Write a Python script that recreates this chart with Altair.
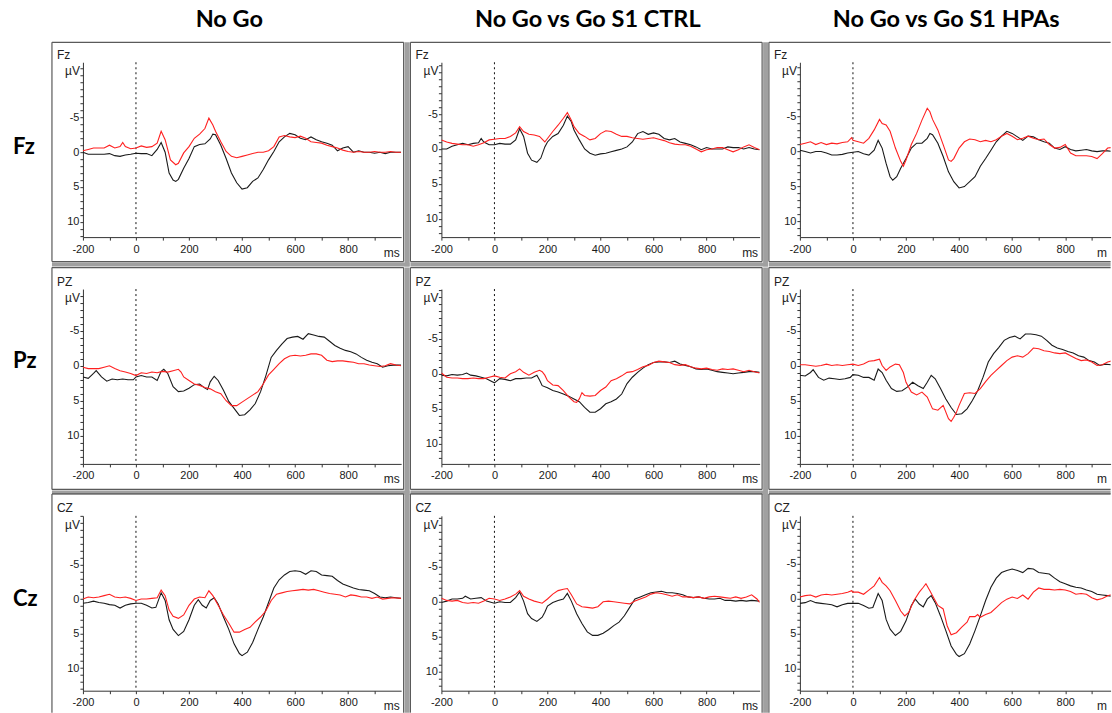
import math
import altair as alt
import pandas as pd

COL_TITLES = ["No Go", "No Go vs Go S1 CTRL", "No Go vs Go S1 HPAs"]
ROW_TITLES = ["Fz", "Pz", "Cz"]
SITE_LABELS = ["Fz", "PZ", "CZ"]
X_TICKS = list(range(-200, 1000, 100))

# (time ms, amplitude µV); negative is plotted upwards
FZ_NOGO_BLACK = [(-200,0),(-180,0.3),(-160,0.3),(-120,0.3),(-100,0.2),(-80,0.5),(-60,0.6),(-40,0.4),(-20,0.3),(0,0.15),(20,0.2),(40,0.2),(60,0.5),(80,-0.4),(95,-1.4),(110,0),(125,3),(140,4),(150,4.2),(160,3.9),(180,2.3),(200,0.9),(220,-0.8),(240,-1.1),(260,-1.2),(280,-1.9),(290,-2.6),(300,-2.5),(320,-1),(340,0.9),(360,3),(380,4.4),(400,5.3),(420,5.1),(440,4.2),(460,3.7),(480,2.5),(500,1.1),(520,-0.1),(540,-1.5),(560,-2.2),(580,-2.7),(600,-2.5),(620,-2),(640,-1.8),(660,-2.2),(680,-1.8),(700,-1.5),(720,-1.3),(740,-1),(760,-0.2),(780,-0.6),(800,-0.8),(820,0),(840,-0.2),(860,0),(880,0),(900,0.15),(920,0),(940,0.2),(960,0),(980,0),(1000,0)]
FZ_NOGO_RED = [(-200,-0.2),(-180,-0.4),(-160,-0.6),(-120,-0.6),(-100,-1),(-80,-0.6),(-60,-0.8),(-50,-1.4),(-40,-0.8),(-20,-0.5),(0,-0.6),(20,-0.9),(40,-0.7),(60,-0.8),(80,-1.3),(95,-3),(110,-1.8),(130,1.1),(150,1.8),(160,1.6),(180,0.1),(200,-0.8),(220,-2),(240,-2.6),(260,-3.4),(275,-4.9),(290,-3.9),(300,-3),(320,-1.5),(340,-0.1),(360,0.6),(380,0.8),(400,0.6),(420,0.4),(440,0.2),(460,0),(480,0),(500,-0.2),(520,-0.8),(540,-2.2),(560,-2.4),(580,-2.2),(600,-2.1),(620,-2.3),(640,-2),(660,-1.5),(680,-1.4),(700,-1.3),(720,-1),(740,-0.8),(760,-0.6),(780,-0.3),(800,-0.1),(820,0),(840,-0.1),(860,0),(880,0),(900,-0.1),(920,0),(940,0),(960,-0.1),(980,0),(1000,0)]
FZ_CTRL_BLACK = [(-200,0),(-180,0),(-160,-0.4),(-140,-0.6),(-120,-0.8),(-100,-0.6),(-80,-0.8),(-60,-0.9),(-50,-1.5),(-40,-1),(-20,-0.6),(0,-0.6),(20,-0.8),(40,-0.7),(60,-0.7),(80,-1.3),(95,-2.9),(110,-1.8),(125,0.6),(140,1.6),(160,1.9),(175,1.3),(190,-0.3),(200,-1),(220,-1.8),(240,-2.2),(260,-3.4),(275,-4.7),(290,-3.9),(300,-2.7),(320,-1.3),(340,0),(360,0.6),(380,0.9),(400,0.7),(420,0.6),(440,0.4),(460,0.2),(480,0),(500,-0.3),(520,-1),(540,-2.2),(560,-2.5),(580,-2.1),(600,-2.3),(620,-2.1),(640,-1.5),(660,-1.3),(680,-1.5),(700,-1),(720,-0.8),(740,-0.6),(760,-0.3),(780,0.1),(800,-0.2),(820,0),(840,0),(860,0),(880,-0.3),(900,-0.2),(920,-0.2),(940,0),(960,-0.2),(980,0),(1000,0.1)]
FZ_CTRL_RED = [(-200,-1.3),(-180,-1),(-160,-0.8),(-140,-0.7),(-120,-0.6),(-100,-0.6),(-80,-0.4),(-60,-0.6),(-40,-0.9),(-20,-1.3),(0,-1.4),(20,-1.5),(40,-1.5),(60,-1.8),(80,-2.3),(95,-3.2),(110,-2.5),(130,-2.1),(150,-2),(170,-1.8),(190,-1),(200,-1.5),(220,-2.5),(240,-3.4),(260,-4.4),(275,-5.2),(290,-4.1),(300,-3.2),(320,-2.2),(340,-1.8),(360,-1.3),(380,-1.5),(400,-2.2),(420,-2.6),(440,-2.5),(460,-2.1),(480,-1.8),(500,-1.8),(520,-1.6),(540,-1.5),(560,-1.4),(580,-1.5),(600,-1.6),(620,-1.4),(640,-1.2),(660,-0.9),(680,-0.7),(700,-0.6),(720,-0.6),(740,-0.4),(760,0),(780,0.4),(800,0.1),(820,0),(840,-0.2),(860,-0.2),(880,0.1),(900,0.4),(920,0.1),(940,-0.3),(960,-0.6),(980,-0.2),(1000,0.1)]
FZ_HPA_BLACK = [(-200,-0.2),(-180,0),(-160,0.2),(-140,0),(-120,0),(-100,0.2),(-80,0.5),(-60,0.5),(-40,0.4),(-20,0.2),(0,0.1),(20,0),(40,0.3),(60,0.5),(80,-0.2),(95,-1.6),(110,-0.5),(125,1.7),(140,3.6),(150,4.1),(165,3.6),(180,2.4),(200,1),(220,-0.5),(240,-1.2),(260,-1.2),(280,-1.9),(290,-2.6),(300,-2.4),(320,-1.2),(340,0.7),(360,2.9),(380,4.3),(400,5.2),(420,5),(440,4.3),(460,3.6),(480,2.1),(500,1),(520,-0.2),(540,-1.4),(560,-2.2),(580,-2.9),(600,-2.6),(620,-2.1),(640,-1.6),(660,-2.2),(680,-2.1),(700,-1.7),(720,-1.4),(740,-1.2),(760,-0.5),(780,-0.3),(800,-0.7),(820,-0.3),(840,-0.1),(860,-0.2),(880,-0.3),(900,-0.1),(920,0),(940,-0.1),(960,-0.1),(980,0),(1000,0)]
FZ_HPA_RED = [(-200,-1),(-180,-1.2),(-160,-1.4),(-140,-1),(-120,-1.3),(-100,-1),(-80,-1.2),(-60,-1.1),(-40,-1.3),(-20,-1.4),(-5,-2),(0,-1.6),(20,-1.4),(40,-1.2),(60,-1.9),(80,-3.1),(100,-4.6),(110,-4),(125,-3.8),(140,-2.9),(160,-0.5),(180,1.4),(190,2.1),(200,1.2),(220,-1),(240,-2.6),(260,-4.5),(280,-6.2),(290,-5.7),(300,-4.6),(320,-3.1),(340,-1),(360,1.2),(370,1.4),(380,1),(400,-0.5),(420,-1.4),(440,-1.8),(460,-1.7),(480,-1.4),(500,-1.6),(520,-1.4),(540,-1.7),(560,-2.2),(580,-2.6),(600,-2.2),(620,-1.7),(640,-1.9),(660,-2.2),(680,-1.9),(700,-1.7),(720,-1.8),(740,-1),(760,-0.5),(780,-0.6),(800,-1),(820,0.2),(840,0.6),(860,0.6),(880,0.6),(900,0.7),(920,1),(940,0.3),(960,-0.5),(980,-0.6),(1000,-0.5)]

PZ_NOGO_BLACK = [(-200,1.6),(-180,1.8),(-160,1.1),(-150,0.7),(-130,1.6),(-110,2.2),(-90,1.9),(-70,2),(-50,1.9),(-30,2),(-10,2),(0,1.6),(20,1.4),(40,1.6),(60,1.6),(80,2.1),(95,0.8),(105,0.5),(120,1.1),(140,3),(160,3.7),(180,3.6),(200,3.2),(220,2.7),(240,2.6),(260,3.2),(270,3.4),(280,2.3),(295,1.5),(310,2.1),(330,3.5),(350,5.1),(370,6.1),(390,7.1),(410,7),(430,6.3),(450,5.4),(470,3.7),(490,1.4),(510,-1.2),(530,-2.2),(550,-3.1),(570,-3.9),(590,-4.1),(610,-4.2),(630,-3.8),(650,-4.6),(670,-4.4),(690,-4.2),(710,-4.1),(730,-3.5),(750,-2.9),(770,-2.5),(790,-2.2),(810,-2),(830,-1.7),(850,-1.2),(870,-0.8),(890,-0.5),(910,-0.3),(930,0.2),(950,0),(970,-0.1),(1000,-0.1)]
PZ_NOGO_RED = [(-200,0.2),(-180,0.4),(-160,0.4),(-140,0.4),(-120,0.2),(-100,0),(-80,0.4),(-60,0.7),(-40,0.9),(-20,1.1),(0,1.4),(20,1),(40,1.1),(60,0.9),(80,1),(100,0.8),(120,0.9),(140,0.7),(160,0.5),(170,0.9),(180,1.6),(200,2.1),(220,2.6),(240,2.8),(260,3.1),(280,3.3),(300,3.7),(320,4),(340,5),(360,5.7),(380,5.7),(400,5.2),(420,4.7),(440,4.2),(460,3.7),(480,2.6),(500,1.3),(520,0.5),(540,-0.3),(560,-1),(580,-1.4),(600,-1.5),(620,-1.4),(640,-1.5),(660,-1.7),(680,-1.7),(700,-1.5),(720,-0.8),(740,-0.6),(760,-0.7),(780,-0.7),(800,-0.6),(820,-0.5),(840,-0.3),(860,-0.3),(880,-0.1),(900,0),(920,0.1),(940,0),(960,-0.3),(980,-0.1),(1000,0)]
PZ_CTRL_BLACK = [(-200,0.2),(-180,0.3),(-160,0.1),(-140,0.2),(-120,0.1),(-105,-0.1),(-90,0.2),(-70,0.3),(-50,0.5),(-30,0.7),(-10,1.1),(0,1.3),(20,0.7),(40,0.8),(60,1),(80,0.7),(100,0.7),(120,0.6),(140,0.6),(160,0.2),(170,0.9),(180,1.7),(200,2),(220,2.4),(240,2.6),(260,2.9),(280,3.2),(300,3.6),(320,4),(340,4.8),(360,5.5),(380,5.5),(400,5),(420,4.3),(440,4),(460,3.6),(480,2.9),(500,1.4),(520,0.5),(540,-0.2),(560,-0.8),(580,-1.3),(600,-1.6),(620,-1.7),(640,-1.7),(660,-1.6),(680,-1.8),(700,-1.4),(720,-1.2),(740,-1),(760,-0.7),(780,-0.6),(800,-0.7),(820,-0.5),(840,-0.3),(860,-0.2),(880,-0.1),(900,0),(920,-0.1),(940,-0.2),(960,-0.3),(980,-0.3),(1000,-0.2)]
PZ_CTRL_RED = [(-200,-0.1),(-180,0.5),(-160,0.6),(-140,0.6),(-120,0.7),(-100,0.7),(-80,0.6),(-60,0.7),(-40,0.7),(-20,0.5),(0,0.3),(20,0.5),(40,0.6),(60,0),(80,-0.3),(95,-0.7),(110,-0.2),(130,0.2),(150,-0.2),(170,-0.5),(180,-0.3),(190,0.2),(200,1),(220,1.6),(240,1.7),(260,2.4),(280,3.3),(300,4),(310,4.1),(320,3.6),(330,2.7),(340,3.1),(360,3.2),(380,3.1),(400,2.4),(420,1.9),(440,1),(460,0.7),(480,0.3),(500,-0.2),(520,-0.3),(540,-0.6),(560,-1),(580,-1.2),(600,-1.6),(620,-1.8),(640,-1.7),(660,-1.6),(680,-1.3),(700,-1.2),(720,-1.3),(740,-1),(760,-0.8),(780,-0.7),(800,-0.8),(820,-0.6),(840,-0.5),(860,-0.7),(880,-0.6),(900,-0.7),(920,-0.5),(940,-0.3),(960,-0.5),(980,-0.3),(1000,-0.1)]
PZ_HPA_BLACK = [(-200,1.4),(-180,1.5),(-160,1),(-150,0.6),(-130,1.7),(-110,2.1),(-90,1.8),(-70,1.9),(-50,2),(-30,1.9),(-10,1.7),(0,1.3),(20,1.4),(40,1.7),(60,1.7),(80,2.1),(95,0.5),(110,1),(125,2.1),(145,3.3),(165,3.7),(185,3.6),(205,3.1),(225,2.4),(245,2.9),(265,3.3),(280,2.4),(295,1.4),(310,1.9),(330,3.3),(350,4.8),(370,6),(390,7),(410,6.9),(430,6.2),(450,5),(470,3.6),(490,1.7),(510,-0.5),(530,-1.7),(550,-2.6),(570,-3.6),(590,-4),(610,-4.2),(630,-3.8),(650,-4.5),(670,-4.5),(690,-4.4),(710,-4.2),(730,-3.6),(750,-2.9),(770,-2.5),(790,-2.3),(810,-2),(830,-1.8),(850,-1.4),(870,-1.2),(890,-0.7),(910,-0.5),(930,0),(950,-0.2),(975,-0.1),(1000,0)]
PZ_HPA_RED = [(-200,-0.1),(-180,-0.1),(-160,0),(-140,0.1),(-120,0),(-100,-0.2),(-80,0),(-60,-0.1),(-40,0),(-20,-0.1),(0,-0.2),(20,0),(40,-0.2),(60,-0.6),(80,-0.7),(100,-0.9),(110,0),(125,0.7),(140,0.2),(160,-0.2),(175,-0.1),(190,1),(200,2.4),(220,3.8),(240,4.2),(260,3.8),(280,4.5),(300,6.2),(320,6.4),(340,5.7),(360,7.6),(370,8),(380,7.4),(390,6.7),(400,5.7),(420,4),(440,3.9),(460,4),(480,3.3),(500,2.3),(520,1.4),(540,0.7),(560,0),(580,-0.7),(600,-1.2),(620,-1.4),(640,-1.2),(660,-1.7),(680,-2.5),(700,-2.4),(720,-2.1),(740,-2),(760,-1.8),(780,-1.7),(800,-1.8),(820,-1.4),(840,-1),(860,-0.7),(880,-0.8),(900,-0.5),(920,0),(940,-0.1),(960,-0.5),(980,-0.7),(1000,-0.8)]

CZ_NOGO_BLACK = [(-200,0.6),(-180,0.5),(-160,0.3),(-140,0.5),(-120,0.6),(-100,0.8),(-80,0.9),(-60,1.3),(-40,0.9),(-20,0.7),(0,0.6),(20,0.6),(40,0.9),(60,1.3),(75,1.2),(95,-0.9),(110,0.2),(125,3),(140,4.4),(160,5.3),(180,4.7),(200,3),(220,0.9),(235,0.1),(250,0.9),(265,1.3),(280,0.2),(295,-0.2),(310,0.7),(330,2.6),(350,4.4),(370,6.5),(390,7.9),(400,8.2),(420,7.7),(440,6.3),(460,4.4),(480,2.6),(500,0.5),(520,-1.6),(540,-2.8),(560,-3.5),(580,-4),(600,-4.1),(620,-4),(640,-3.6),(660,-4.1),(680,-4),(700,-3.5),(720,-3.4),(740,-3.3),(760,-2.7),(780,-2.2),(800,-1.9),(820,-1.6),(840,-1.4),(860,-1.3),(880,-1.2),(900,-0.8),(920,-0.3),(940,-0.2),(960,-0.3),(980,-0.2),(1000,-0.1)]
CZ_NOGO_RED = [(-200,0),(-180,-0.3),(-160,-0.2),(-140,-0.3),(-120,-0.5),(-100,-0.7),(-80,-0.3),(-60,-0.2),(-40,-0.3),(-20,-0.1),(0,0.2),(20,0),(40,0),(60,-0.1),(80,-0.2),(95,-1.3),(110,-0.5),(125,1.6),(140,2.5),(160,2.8),(180,2.3),(200,0.9),(220,0),(240,-0.3),(260,-0.2),(275,-1.2),(290,-0.5),(310,0.9),(330,2.3),(350,3.5),(370,4.8),(390,4.8),(410,4.4),(430,4.1),(450,3.3),(470,2.6),(490,1.7),(510,0.2),(530,-0.7),(550,-0.9),(570,-1.1),(590,-1.2),(610,-1.3),(630,-1.4),(650,-1.3),(670,-1.4),(690,-1.2),(710,-1),(730,-0.8),(750,-0.7),(770,-0.6),(790,-0.3),(810,-0.6),(830,-0.5),(850,-0.3),(870,-0.3),(890,-0.1),(910,-0.3),(930,0),(950,-0.1),(970,-0.2),(1000,-0.1)]
CZ_CTRL_BLACK = [(-200,0.1),(-180,-0.1),(-160,-0.4),(-140,-0.4),(-120,-0.5),(-110,-0.8),(-90,-0.4),(-70,-0.5),(-50,-0.6),(-30,-0.1),(-10,0.1),(0,0.2),(20,0),(40,0.1),(60,0.1),(80,-0.6),(95,-1.4),(110,-0.1),(125,1.7),(140,2.4),(160,2.8),(180,2.2),(190,1.5),(200,0.6),(220,0.1),(240,-0.2),(260,-0.4),(275,-1.2),(290,-0.1),(310,1.7),(330,3.1),(350,4.3),(370,4.8),(390,4.8),(410,4.5),(430,4),(450,3.4),(470,2.9),(490,2),(510,0.8),(530,-0.4),(550,-0.7),(570,-1),(590,-1.3),(610,-1.4),(630,-1.5),(650,-1.3),(670,-1.3),(690,-1.2),(710,-1),(730,-0.7),(750,-0.6),(770,-0.7),(790,-0.5),(810,-0.4),(830,-0.4),(850,-0.5),(870,-0.2),(890,-0.2),(910,-0.1),(930,-0.2),(950,-0.1),(970,-0.2),(1000,-0.1)]
CZ_CTRL_RED = [(-200,-0.5),(-180,-0.2),(-160,-0.1),(-140,-0.2),(-120,0.1),(-100,0.2),(-80,0.1),(-60,0.2),(-40,-0.1),(-20,-0.5),(0,-0.4),(20,-0.2),(40,-0.4),(60,-0.7),(80,-1.1),(95,-1.6),(110,-0.8),(130,-0.4),(150,-0.1),(170,0.1),(180,0.2),(200,-0.4),(220,-1.1),(240,-1.6),(260,-1.8),(275,-1.9),(290,-1),(310,0.3),(330,0.7),(350,0.8),(370,0.9),(390,0.7),(410,0),(430,-0.1),(450,0),(470,0.1),(490,0.2),(510,0.3),(530,-0.1),(550,-0.4),(570,-0.7),(590,-1.1),(610,-1.3),(630,-1.2),(650,-1),(670,-0.8),(690,-1),(710,-0.7),(730,-0.7),(750,-0.6),(770,-0.7),(790,-0.5),(810,-0.7),(830,-0.8),(850,-0.7),(870,-0.6),(890,-0.5),(910,-0.7),(930,-0.5),(950,-0.7),(970,-1),(990,-0.4),(1000,0.1)]
CZ_HPA_BLACK = [(-200,0.7),(-180,0.6),(-160,0.3),(-140,0.6),(-120,0.7),(-100,0.8),(-80,0.9),(-60,1.2),(-40,0.9),(-20,0.7),(0,0.7),(20,0.7),(40,1),(60,1.4),(75,1.3),(95,-0.7),(110,0.3),(125,3),(140,4.4),(160,5.3),(180,4.7),(200,3.2),(220,1),(235,0.1),(250,0.8),(265,1.2),(280,0.1),(295,-0.4),(310,0.6),(330,2.5),(350,4.6),(370,6.8),(390,8),(400,8.3),(420,7.9),(440,6.5),(460,4.6),(480,2.5),(500,0.3),(520,-1.6),(540,-2.9),(560,-3.7),(580,-4),(600,-4.2),(620,-4),(640,-3.7),(660,-4.3),(680,-4.2),(700,-3.7),(720,-3.6),(740,-3.5),(760,-2.9),(780,-2.4),(800,-2.1),(820,-1.8),(840,-1.6),(860,-1.5),(880,-1.2),(900,-1),(920,-0.6),(940,-0.5),(960,-0.4),(980,-0.3),(1000,-0.2)]
CZ_HPA_RED = [(-200,-0.2),(-180,-0.4),(-160,-0.5),(-140,-0.2),(-120,-0.5),(-100,-0.6),(-80,-0.5),(-60,-0.6),(-40,-0.7),(-20,-0.9),(-5,-1.1),(0,-0.9),(20,-0.9),(40,-0.6),(60,-1.2),(80,-1.8),(100,-3),(110,-2.3),(125,-1.8),(140,-1.1),(160,0.3),(180,1.8),(195,2.5),(210,2),(230,0.3),(250,-0.9),(265,-1.6),(275,-2.1),(290,-1.1),(300,-0.4),(320,1),(340,1.5),(355,3.9),(370,5.2),(390,4.9),(410,4.1),(430,3.4),(440,2.6),(460,2.6),(470,2.3),(480,2.7),(500,2.3),(520,2),(540,1.3),(560,0.6),(580,0.1),(600,-0.2),(620,0),(640,-0.5),(660,0.1),(680,-0.9),(700,-1.5),(720,-1.3),(740,-1.3),(760,-1.2),(780,-1.3),(800,-1.2),(820,-1),(840,-0.6),(860,-0.7),(880,-0.6),(900,-0.1),(920,0.2),(940,0),(960,-0.4),(980,-0.6),(1000,-0.5)]

SERIES = [
    [(FZ_NOGO_BLACK, FZ_NOGO_RED), (FZ_CTRL_BLACK, FZ_CTRL_RED), (FZ_HPA_BLACK, FZ_HPA_RED)],
    [(PZ_NOGO_BLACK, PZ_NOGO_RED), (PZ_CTRL_BLACK, PZ_CTRL_RED), (PZ_HPA_BLACK, PZ_HPA_RED)],
    [(CZ_NOGO_BLACK, CZ_NOGO_RED), (CZ_CTRL_BLACK, CZ_CTRL_RED), (CZ_HPA_BLACK, CZ_HPA_RED)],
]

# per-panel amplitude range (top, bottom) and time range end
Y_DOMAINS = [
    [(-12.93, 12.21), (-12.4, 12.6), (-12.77, 12.23)],
    [(-10.97, 14.03), (-12.11, 12.89), (-10.93, 14.07)],
    [(-12.07, 13.29), (-12.29, 12.71), (-11.81, 13.19)],
]
X_END = [1000, 1000, 971]

# layout (pixels)
WIDTHS = [318.5, 318.5, 311]
HEIGHT = 175
BOX_TOP = [-20, -21.5, -22]
BOX_BOTTOM = [24.5, 25.5, None]
ROW_LABEL_Y = [85, 72, 83]

BLACK = "#1a1a1a"
RED = "#ff2020"
FRAME = "#5a5a5a"
BAND = "#a0a0a0"
ONE = pd.DataFrame({"k": [0]})


def hline(x1, x2, y, color=FRAME, sw=1.2):
    return alt.Chart(ONE).mark_rule(color=color, strokeWidth=sw).encode(
        x=alt.value(x1), x2=alt.value(x2), y=alt.value(y))


def vline(x, y1, y2, color=FRAME, sw=1.2):
    return alt.Chart(ONE).mark_rule(color=color, strokeWidth=sw).encode(
        x=alt.value(x), y=alt.value(y1), y2=alt.value(y2))


def band(x1, x2, y1, y2):
    return alt.Chart(ONE).mark_rect(color=BAND).encode(
        x=alt.value(x1), x2=alt.value(x2), y=alt.value(y1), y2=alt.value(y2))


def label(s, x, y, **kw):
    return alt.Chart(ONE).mark_text(text=s, **kw).encode(x=alt.value(x), y=alt.value(y))


def panel(r, c):
    w, h = WIDTHS[c], HEIGHT
    lo, hi = Y_DOMAINS[r][c]
    last_col, last_row = c == 2, r == 2
    xs = alt.Scale(domain=[-200, X_END[c]], nice=False, zero=False)
    ys = alt.Scale(domain=[lo, hi], reverse=True, nice=False, zero=False)
    xax = alt.Axis(values=X_TICKS, title=None, grid=False, tickSize=3, labelPadding=3,
                   labelFlush=False, labelOverlap=False,
                   labelExpr="datum.value % 200 === 0 ? '' + datum.value : ''")
    yax = alt.Axis(values=list(range(math.ceil(lo), math.floor(hi) + 1)), title=None,
                   grid=False, tickSize=3, labelPadding=1, labelFlush=False,
                   labelOverlap=False,
                   labelExpr="(datum.value % 5 === 0 && datum.value > -10) ? '' + datum.value : ''")

    layers = []
    L = -31
    T = BOX_TOP[r]
    R = w + 2.5 if not last_col else w
    B = h + BOX_BOTTOM[r] if not last_row else h + 22
    if not last_col:
        layers.append(band(w + 3.5, w + 8.5, T, B + (5 if not last_row else 0)))
    if not last_row:
        layers.append(band(L, R + (6 if not last_col else 0), B + 1, B + 5))
    layers.append(hline(L, R, T))
    layers.append(vline(L, T, B))
    if not last_col:
        layers.append(vline(R, T, B))
    if not last_row:
        layers.append(hline(L, R, B))
    if r == 0 and c == 0:
        layers.append(vline(-82.5, -61.5, -60.5, color="white", sw=1))

    layers.append(alt.Chart(ONE).mark_rule(color="#111", strokeWidth=1, strokeDash=[2, 3]).encode(
        x=alt.X(datum=0, scale=xs, axis=xax), y=alt.value(0), y2=alt.value(h)))

    black, red = SERIES[r][c]
    for pts, col in ((black, BLACK), (red, RED)):
        df = pd.DataFrame(pts, columns=["t", "v"])
        layers.append(alt.Chart(df).mark_line(color=col, strokeWidth=1.1, clip=True).encode(
            x=alt.X("t:Q", scale=xs, axis=xax),
            y=alt.Y("v:Q", scale=ys, axis=yax)))

    small = dict(font="Liberation Sans", fontSize=12, color="#222")
    layers.append(label(SITE_LABELS[r], -26, -3.5, align="left", baseline="alphabetic", **small))
    layers.append(label("µV", -3, 13, align="right", baseline="alphabetic", **small))
    if not last_col:
        layers.append(label("ms", w - 1.5, h + 19.5, align="right", baseline="alphabetic", **small))
    else:
        layers.append(label("ms", w - 13.6, h + 19.5, align="left", baseline="alphabetic",
                            limit=13, ellipsis="\u200b", **small))
    if r == 0:
        layers.append(label(COL_TITLES[c], 146.5, -35, align="center", baseline="alphabetic",
                            font="Lato", fontSize=23.5, fontWeight="bold", color="#000"))
    if c == 0:
        layers.append(label(ROW_TITLES[r], -70, ROW_LABEL_Y[r], align="left", baseline="middle",
                            font="Lato", fontSize=22, fontWeight="bold", color="#000"))

    return alt.layer(*layers).properties(width=w, height=h)


panels = [panel(r, c) for r in range(3) for c in range(3)]
chart = alt.concat(*panels, columns=3, spacing={"row": 52, "column": 39.8},
                   bounds="flush").properties(
    padding=0, background="white"
).configure_view(stroke=None).configure_axis(
    domainColor="#333", tickColor="#333", labelColor="#1a1a1a",
    labelFont="Liberation Sans", labelFontSize=11, domainWidth=1, tickWidth=1
)

chart.save("out.html", embed_options={"renderer": "svg", "actions": False})
